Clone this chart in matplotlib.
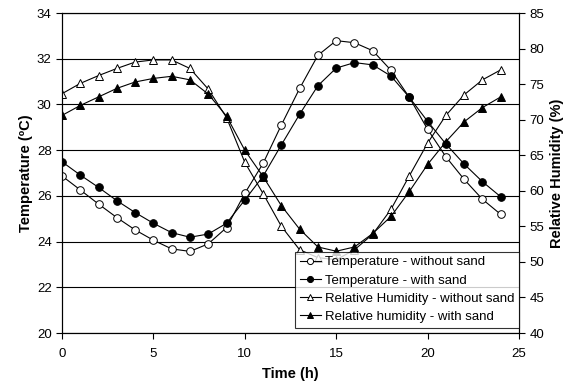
import matplotlib
matplotlib.use("Agg")
import matplotlib.pyplot as plt

plt.rcParams['font.family'] = ['Liberation Sans', 'DejaVu Sans']

hours = list(range(25))
temp_no_sand = [26.87, 26.26, 25.64, 25.05, 24.51, 24.06, 23.68, 23.57, 23.90, 24.61,
                26.11, 27.42, 29.10, 30.70, 32.15, 32.79, 32.70, 32.35, 31.49, 30.31,
                28.91, 27.71, 26.72, 25.85, 25.19]
temp_sand = [27.49, 26.91, 26.37, 25.79, 25.27, 24.80, 24.39, 24.19, 24.33, 24.80,
             25.82, 26.86, 28.23, 29.57, 30.82, 31.59, 31.83, 31.73, 31.24, 30.31,
             29.26, 28.27, 27.39, 26.62, 25.96]
rh_no_sand = [73.65, 75.1, 76.2, 77.2, 78.1, 78.4, 78.4, 77.2, 74.3, 70.3,
              64.0, 59.6, 55.0, 51.7, 50.6, 50.3, 51.7, 53.9, 57.4, 62.1,
              66.7, 70.6, 73.5, 75.6, 77.0]
rh_sand = [70.6, 72.0, 73.2, 74.4, 75.3, 75.8, 76.1, 75.6, 73.6, 70.5,
           65.7, 62.0, 57.9, 54.6, 52.1, 51.5, 52.1, 54.0, 56.4, 59.9,
           63.7, 66.9, 69.7, 71.7, 73.2]

labels = ["Temperature - without sand", "Temperature - with sand",
          "Relative Humidity - without sand", "Relative humidity - with sand"]

fig = plt.figure(figsize=(5.75, 3.82), dpi=100)
ax = fig.add_axes([62/575, 1-333/382, 457/575, 320/382])
ax2 = ax.twinx()

lw = 0.8
l1, = ax.plot(hours, temp_no_sand, color='black', lw=lw, marker='o', ms=5.5,
              mfc='white', mec='black', mew=0.7)
l2, = ax.plot(hours, temp_sand, color='black', lw=lw, marker='o', ms=5.5,
              mfc='black', mec='black', mew=0.7)
l3, = ax2.plot(hours, rh_no_sand, color='black', lw=lw, marker='^', ms=6,
               mfc='white', mec='black', mew=0.7)
l4, = ax2.plot(hours, rh_sand, color='black', lw=lw, marker='^', ms=6,
               mfc='black', mec='black', mew=0.7)

ax.set_xlim(0, 25)
ax.set_ylim(20, 34)
ax.set_yticks(range(20, 35, 2))
ax.set_xticks(range(0, 26, 5))
ax2.set_ylim(40, 85)
ax2.set_yticks(range(40, 86, 5))

ax.grid(axis='y', color='black', lw=0.8)
ax.set_axisbelow(True)

for a in (ax, ax2):
    a.tick_params(direction='out', length=4, width=0.8, labelsize=9.5, colors='black')
    for s in a.spines.values():
        s.set_linewidth(0.8)
        s.set_color('black')
ax.tick_params(axis='x', pad=7)

ax.set_xlabel("Time (h)", fontsize=10.5, fontweight='bold', labelpad=5)
ax.set_ylabel("Temperature (ºC)", fontsize=10.5, fontweight='bold', labelpad=3)
ax2.set_ylabel("Relative Humidity (%)", fontsize=10.5, fontweight='bold', labelpad=4)

leg = ax2.legend([l1, l2, l3, l4], labels, loc='lower right', bbox_to_anchor=(1.0, 0.017),
                 borderaxespad=0, fontsize=9.5, frameon=True, fancybox=False,
                 handlelength=1.6, handletextpad=0.3, labelspacing=0.45,
                 borderpad=0.35, markerscale=0.8)
leg.get_frame().set_edgecolor('black')
leg.get_frame().set_linewidth(0.8)
leg.set_zorder(10)

fig.savefig("out.png", dpi=100)
